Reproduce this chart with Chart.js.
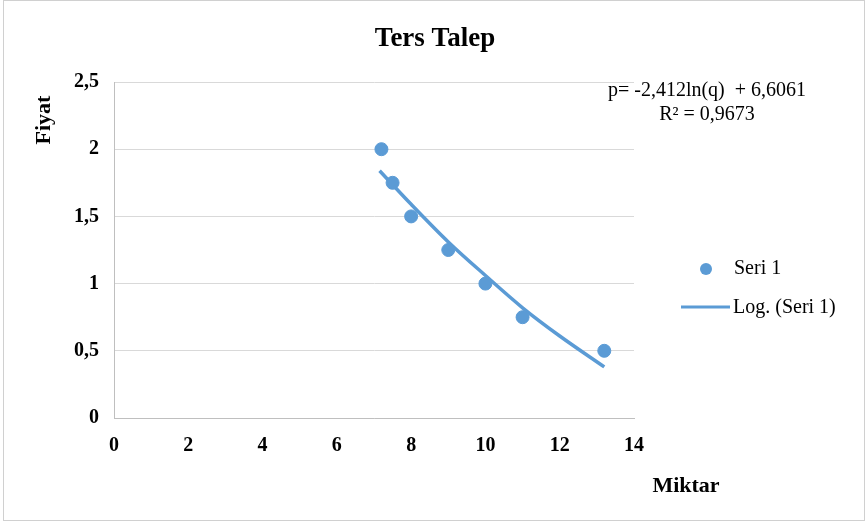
<!DOCTYPE html>
<html>
<head>
<meta charset="utf-8">
<script src="https://cdn.jsdelivr.net/npm/chart.js@4/dist/chart.umd.min.js"></script>
<style>
  body { margin: 0; background: #fff; }
  #kutu { position: relative; width: 868px; height: 525px; }
  #cerceve { position: absolute; left: 3px; top: 0px; width: 860px; height: 519px; border: 1px solid #d0d0d0; pointer-events: none; }
</style>
</head>
<body>
<div id="kutu">
  <canvas id="grafik" width="868" height="525"></canvas>
  <div id="cerceve"></div>
</div>
<script>
// Veriler
const miktar = [7.2, 7.5, 8, 9, 10, 11, 13.2];
const fiyat = [2, 1.75, 1.5, 1.25, 1, 0.75, 0.5];

// Log. eğilim çizgisi (resimden okunan noktalar)
const egilimX = [7.15, 8, 9, 10, 11, 12, 13.2];
const egilimY = [1.84, 1.59, 1.31, 1.06, 0.82, 0.61, 0.38];

const xTikler = [0, 2, 4, 6, 8, 10, 12, 14];
const yTikler = [0, 0.5, 1, 1.5, 2, 2.5];

const baslik = "Ters Talep";
const yEksenAdi = "Fiyat";
const xEksenAdi = "Miktar";
const denklem = "p= -2,412ln(q)  + 6,6061";
const r2 = "R² = 0,9673";

const mavi = "#5b9bd5";
const serif = "'Liberation Serif', 'Times New Roman', serif";

// Başlık, eksen adları, lejant ve denklem için eklenti
const yaziEklentisi = {
  id: "yazilar",
  afterDraw(chart) {
    const ctx = chart.ctx;
    ctx.save();
    ctx.fillStyle = "#000";
    ctx.textBaseline = "middle";

    ctx.font = "bold 27px " + serif;
    ctx.textAlign = "center";
    ctx.fillText(baslik, 435, 39);

    ctx.font = "bold 22px " + serif;
    ctx.fillText(xEksenAdi, 686, 486);

    ctx.save();
    ctx.translate(44, 120);
    ctx.rotate(-Math.PI / 2);
    ctx.fillText(yEksenAdi, 0, 0);
    ctx.restore();

    ctx.font = "20px " + serif;
    ctx.fillText(denklem, 707, 91);
    ctx.fillText(r2, 707, 115);

    // Lejant
    ctx.fillStyle = mavi;
    ctx.beginPath();
    ctx.arc(706, 269, 6, 0, Math.PI * 2);
    ctx.fill();
    ctx.strokeStyle = mavi;
    ctx.lineWidth = 3;
    ctx.beginPath();
    ctx.moveTo(681, 307);
    ctx.lineTo(730, 307);
    ctx.stroke();

    ctx.fillStyle = "#000";
    ctx.textAlign = "left";
    ctx.fillText("Seri 1", 734, 269);
    ctx.fillText("Log. (Seri 1)", 733, 308);
    ctx.restore();
  }
};

new Chart(document.getElementById("grafik").getContext("2d"), {
  type: "scatter",
  data: {
    datasets: [
      {
        label: "Seri 1",
        data: miktar.map((x, i) => ({ x: x, y: fiyat[i] })),
        backgroundColor: mavi,
        borderColor: mavi,
        pointRadius: 6.5,
        order: 1
      },
      {
        label: "Log. (Seri 1)",
        type: "line",
        data: egilimX.map((x, i) => ({ x: x, y: egilimY[i] })),
        borderColor: mavi,
        borderWidth: 3.5,
        pointRadius: 0,
        tension: 0.4,
        cubicInterpolationMode: "monotone",
        fill: false,
        order: 2
      }
    ]
  },
  options: {
    responsive: false,
    animation: false,
    layout: { padding: { left: 0, top: 82, right: 234, bottom: 0 } },
    plugins: {
      legend: { display: false },
      title: { display: false },
      tooltip: { enabled: false }
    },
    scales: {
      x: {
        type: "linear",
        min: 0,
        max: 14,
        afterBuildTicks: (ax) => { ax.ticks = xTikler.map(v => ({ value: v })); },
        afterFit: (ax) => { ax.height = 107; },
        grid: { display: false, drawTicks: false },
        border: { display: true, color: "#bfbfbf", width: 1 },
        ticks: {
          padding: 16,
          color: "#000",
          font: { family: serif, size: 20, weight: "bold" }
        }
      },
      y: {
        min: 0,
        max: 2.5,
        afterBuildTicks: (ax) => { ax.ticks = yTikler.map(v => ({ value: v })); },
        afterFit: (ax) => { ax.width = 114; },
        grid: { color: "#d9d9d9", drawTicks: false },
        border: { display: true, color: "#bfbfbf", width: 1 },
        ticks: {
          padding: 15,
          color: "#000",
          font: { family: serif, size: 20, weight: "bold" },
          callback: (v) => String(v).replace(".", ",")
        }
      }
    }
  },
  plugins: [yaziEklentisi]
});
</script>
</body>
</html>
